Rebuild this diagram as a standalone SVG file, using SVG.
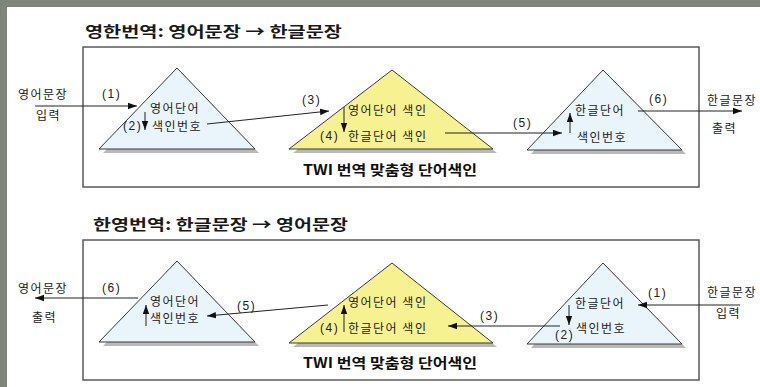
<svg xmlns="http://www.w3.org/2000/svg" width="760" height="387" viewBox="0 0 760 387">
<defs>
<marker id="ah" markerUnits="userSpaceOnUse" markerWidth="10" markerHeight="8" refX="9" refY="4" orient="auto">
<path d="M0,0.8 L9,4 L0,7.2 Z" fill="#111"/>
</marker>
<style>
.bg{fill:#80857a}
.panel{fill:none;stroke:#5a5a5a;stroke-width:1.5}
.shadow{fill:#b9b9b9}
.blue{fill:#eaf4fb;stroke:#3a3a3a;stroke-width:1}
.yellow{fill:#f7f291;stroke:#3a3a3a;stroke-width:1}
.t{font-family:"Noto Sans CJK KR","Liberation Sans",sans-serif;font-size:12px;letter-spacing:1.5px;fill:#222}
.n{font-family:"Liberation Sans","Noto Sans CJK KR",sans-serif;font-size:12px;letter-spacing:1.5px;fill:#222}
.title{font-family:"Noto Sans CJK KR","Liberation Sans",sans-serif;font-size:15px;font-weight:bold;fill:#1a1a1a}
.cap{font-family:"Noto Sans CJK KR","Liberation Sans",sans-serif;font-size:14px;font-weight:bold;fill:#111}
.c{fill:none;stroke:#222;stroke-width:1;marker-end:url(#ah)}
</style>
</defs>
<rect class="bg" x="0" y="0" width="760" height="387"/>
<rect x="7" y="7" width="753" height="380" fill="#ffffff"/>

<!-- top panel -->
<g id="title-top"><text class="title" x="85" y="37" textLength="257" lengthAdjust="spacingAndGlyphs">영한번역: 영어문장 → 한글문장</text></g>
<g id="panel-top"><rect class="panel" x="83" y="47" width="616" height="140"/></g>

<g id="top-input"><text class="t" x="18" y="99">영어문장</text><text class="t" x="36" y="119.5">입력</text></g>
<g id="top-en-tri">
<polygon class="shadow" points="103,153 181,72 259,153"/>
<polygon class="blue" points="99,149 177,68 255,149"/>
<text class="t" x="150" y="112.5">영어단어</text>
<text class="t" x="152" y="130.5">색인번호</text>
</g>
<g id="top-twi-tri">
<polygon class="shadow" points="293,153 396,74 497,153"/>
<polygon class="yellow" points="289,149 392,70 493,149"/>
<text class="t" x="348" y="114.5">영어단어 색인</text>
<text class="t" x="348" y="140.5">한글단어 색인</text>
<text class="cap" x="303" y="175" textLength="174" lengthAdjust="spacingAndGlyphs">TWI 번역 맞춤형 단어색인</text>
</g>
<g id="top-ko-tri">
<polygon class="shadow" points="531,154 607,74 686,154"/>
<polygon class="blue" points="527,150 603,70 682,150"/>
<text class="t" x="575" y="114.5">한글단어</text>
<text class="t" x="577" y="141.5">색인번호</text>
</g>
<g id="top-output"><text class="t" x="707" y="104.5">한글문장</text><text class="t" x="712" y="132.5">출력</text></g>

<!-- bottom panel -->
<g id="title-bottom"><text class="title" x="93" y="230" textLength="255" lengthAdjust="spacingAndGlyphs">한영번역: 한글문장 → 영어문장</text></g>
<g id="panel-bottom"><rect class="panel" x="83" y="240" width="616" height="140"/></g>

<g id="bottom-output"><text class="t" x="18" y="292.5">영어문장</text><text class="t" x="32" y="321.5">출력</text></g>
<g id="bottom-en-tri">
<polygon class="shadow" points="103,346 181,265 259,346"/>
<polygon class="blue" points="99,342 177,261 255,342"/>
<text class="t" x="150" y="305.5">영어단어</text>
<text class="t" x="150" y="322.5">색인번호</text>
</g>
<g id="bottom-twi-tri">
<polygon class="shadow" points="293,347 396,267 497,347"/>
<polygon class="yellow" points="289,343 392,263 493,343"/>
<text class="t" x="348" y="306.5">영어단어 색인</text>
<text class="t" x="348" y="332.5">한글단어 색인</text>
<text class="cap" x="303" y="368" textLength="174" lengthAdjust="spacingAndGlyphs">TWI 번역 맞춤형 단어색인</text>
</g>
<g id="bottom-ko-tri">
<polygon class="shadow" points="531,348 607,267 686,348"/>
<polygon class="blue" points="527,344 603,263 682,344"/>
<text class="t" x="575" y="307.5">한글단어</text>
<text class="t" x="576" y="332.5">색인번호</text>
</g>
<g id="bottom-input"><text class="t" x="707" y="296.5">한글문장</text><text class="t" x="716" y="317.5">입력</text></g>

<!-- connectors -->
<g id="connectors">
<line class="c" x1="35" y1="106" x2="137" y2="106"/>
<line class="c" x1="145" y1="112" x2="145" y2="130"/>
<line class="c" x1="207" y1="124" x2="329" y2="111"/>
<line class="c" x1="344" y1="107" x2="344" y2="132"/>
<line class="c" x1="445" y1="133" x2="562" y2="133"/>
<line class="c" x1="570" y1="133" x2="570" y2="113"/>
<line class="c" x1="638" y1="111" x2="742" y2="111"/>

<line class="c" x1="740" y1="305" x2="638" y2="305"/>
<line class="c" x1="569" y1="305" x2="569" y2="325"/>
<line class="c" x1="560" y1="326" x2="448" y2="326"/>
<line class="c" x1="344" y1="332" x2="344" y2="305"/>
<line class="c" x1="328" y1="305" x2="207" y2="316"/>
<line class="c" x1="146" y1="326" x2="146" y2="305"/>
<line class="c" x1="138" y1="298" x2="35" y2="298"/>
</g>
<g id="connector-labels">
<text class="n" x="102" y="98">(1)</text>
<text class="n" x="123" y="129.5">(2)</text>
<text class="n" x="302" y="104">(3)</text>
<text class="n" x="320" y="140">(4)</text>
<text class="n" x="513" y="127">(5)</text>
<text class="n" x="649" y="103">(6)</text>

<text class="n" x="648" y="297">(1)</text>
<text class="n" x="555" y="339">(2)</text>
<text class="n" x="480" y="320">(3)</text>
<text class="n" x="320" y="332">(4)</text>
<text class="n" x="237" y="310">(5)</text>
<text class="n" x="102" y="292">(6)</text>
</g>
</svg>
